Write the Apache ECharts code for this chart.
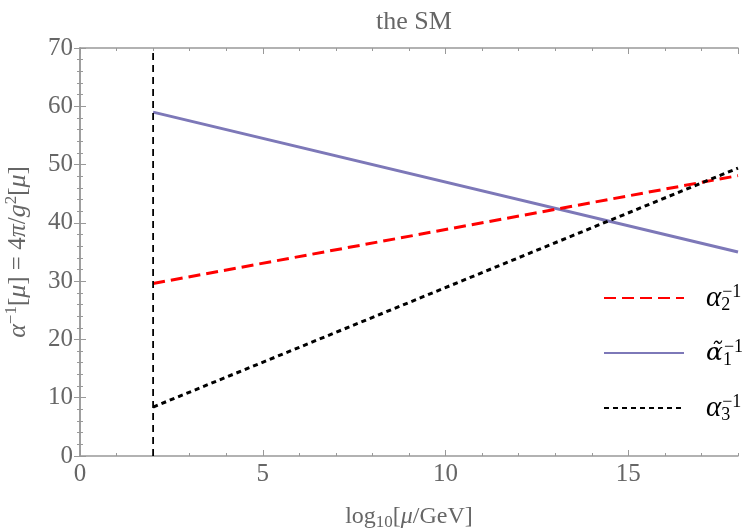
<!DOCTYPE html>
<html>
<head>
<meta charset="utf-8">
<script src="https://cdn.jsdelivr.net/npm/echarts@6/dist/echarts.min.js"></script>
<style>
  html, body { margin: 0; padding: 0; background: #fff; }
  #chart { width: 750px; height: 532px; }
</style>
</head>
<body>
<div id="chart"></div>
<script>
// straight running couplings, two end points each: [log10(mu/GeV), alpha^-1]
const alpha2 = [[2, 29.6], [18, 48.1]];
const alpha1 = [[2, 59.0], [18, 35.0]];
const alpha3 = [[2, 8.4], [18, 49.4]];
const cutLine = [[2, 0], [2, 70]];
const seriesNames = ["a2", "a1", "a3"];

const chart = echarts.init(document.getElementById("chart"));
const serif = "Liberation Serif";
const gray = "#666";
const frame = "#999";

const legendLabels = {
  a2: "{a|α}{sub|2}{sup|−1}",
  a1: "{t|α̃}{sub|1}{sup|−1}",
  a3: "{a|α}{sub|3}{sup|−1}",
};

function xAxisOf(pos, major, labels) {
  return {
    type: "value",
    position: pos,
    min: 0,
    max: 18,
    interval: major ? 5 : 1,
    axisLine: { show: major, lineStyle: { color: frame, width: 1.5 } },
    axisTick: { show: true, inside: true, length: major ? 6 : 3, lineStyle: { color: frame } },
    splitLine: { show: false },
    axisLabel: {
      show: labels,
      showMaxLabel: false,
      color: gray,
      fontFamily: serif,
      fontSize: 25,
      margin: 6,
    },
    name: labels ? "log{s|10}[{i|μ}/GeV]" : "",
    nameLocation: "middle",
    nameGap: 46,
    nameTextStyle: {
      color: gray,
      fontFamily: serif,
      fontSize: 24,
      rich: {
        s: { fontFamily: serif, fontSize: 17, color: gray, padding: [12, 0, 0, 0] },
        i: { fontFamily: serif, fontStyle: "italic", fontSize: 24, color: gray },
      },
    },
  };
}

function yAxisOf(pos, labels) {
  return {
    type: "value",
    position: pos,
    min: 0,
    max: 70,
    interval: 10,
    axisLine: { show: true, lineStyle: { color: frame, width: 1.5 } },
    axisTick: { show: true, inside: true, length: 6, lineStyle: { color: frame } },
    minorTick: { show: true, splitNumber: 5, length: 3, lineStyle: { color: frame } },
    splitLine: { show: false },
    axisLabel: { show: labels, color: gray, fontFamily: serif, fontSize: 25, margin: 7 },
    name: labels ? "{i|α}{sup|−1}[{i|μ}] = 4{i|π}/{i|g}{sup|2}[{i|μ}]" : "",
    nameLocation: "middle",
    nameRotate: 90,
    nameGap: 47,
    nameTextStyle: {
      color: gray,
      fontFamily: serif,
      fontSize: 25,
      rich: {
        i: { fontFamily: serif, fontStyle: "italic", fontSize: 26, color: gray },
        sup: { fontFamily: serif, fontSize: 17, color: gray, padding: [0, 0, 13, 0] },
      },
    },
  };
}

const option = {
  backgroundColor: "#fff",
  animation: false,
  title: {
    text: "the SM",
    left: 409,
    top: 4,
    textAlign: "center",
    textStyle: { color: gray, fontFamily: serif, fontSize: 26, fontWeight: "normal" },
  },
  grid: { left: 80, right: 12, top: 48, bottom: 76, containLabel: false, outerBoundsMode: "none" },
  xAxis: [
    xAxisOf("bottom", true, true),
    xAxisOf("bottom", false, false),
    xAxisOf("top", true, false),
    xAxisOf("top", false, false),
  ],
  yAxis: [yAxisOf("left", true), yAxisOf("right", false)],
  legend: {
    data: seriesNames,
    orient: "vertical",
    left: 598,
    top: 278,
    itemWidth: 80,
    itemHeight: 14,
    itemGap: 24,
    itemStyle: { opacity: 0 },
    formatter: (n) => legendLabels[n],
    textStyle: {
      color: "#000",
      fontFamily: serif,
      fontSize: 22,
      padding: [0, 0, 0, 17],
      rich: {
        a: { fontFamily: serif, fontStyle: "italic", fontSize: 29, color: "#000" },
        t: { fontFamily: "DejaVu Serif", fontStyle: "italic", fontSize: 25, color: "#000" },
        sub: { fontFamily: serif, fontSize: 18, color: "#000", width: 1, padding: [14, 0, 0, 0] },
        sup: { fontFamily: serif, fontSize: 18, color: "#000", padding: [0, 0, 12, 0] },
      },
    },
  },
  series: [
    {
      name: "a2",
      type: "line",
      data: alpha2,
      showSymbol: false,
      symbol: "none",
      lineStyle: { color: "#ff0000", width: 3, type: [12, 6] },
      itemStyle: { color: "#ff0000" },
      z: 3,
    },
    {
      name: "a1",
      type: "line",
      data: alpha1,
      showSymbol: false,
      symbol: "none",
      lineStyle: { color: "#7d78b8", width: 3, type: "solid" },
      itemStyle: { color: "#7d78b8" },
      z: 2,
    },
    {
      name: "a3",
      type: "line",
      data: alpha3,
      showSymbol: false,
      symbol: "none",
      lineStyle: { color: "#000", width: 3, type: [5, 4] },
      itemStyle: { color: "#000" },
      z: 4,
    },
    {
      name: "cut",
      type: "line",
      data: cutLine,
      showSymbol: false,
      symbol: "none",
      lineStyle: { color: "#000", width: 1.8, type: [7, 5] },
      z: 5,
    },
  ],
};

chart.setOption(option);
window.onresize = chart.resize;
</script>
</body>
</html>
